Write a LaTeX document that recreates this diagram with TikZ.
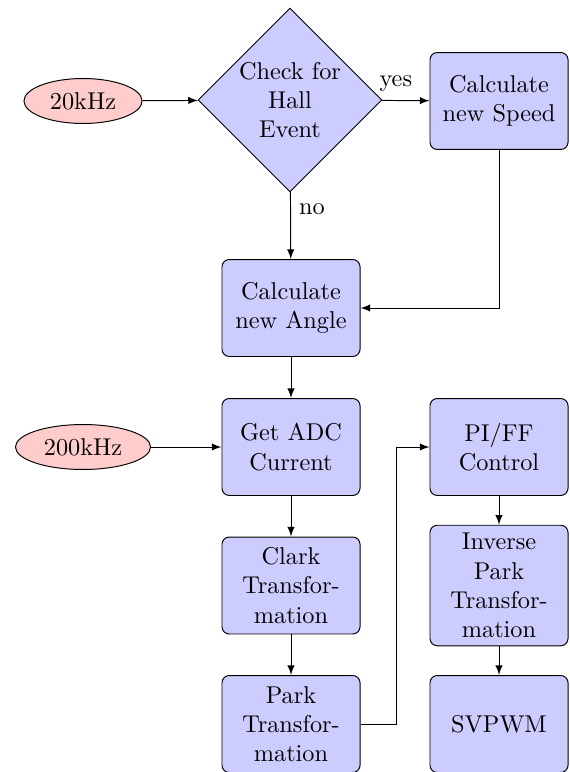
\documentclass[tikz,border=0pt]{standalone}
\usetikzlibrary{shapes.geometric,arrows}
\begin{document}
\begin{tikzpicture}[x=0.4115pt,y=-0.4115pt,>=latex,
  block/.style={rectangle, draw, fill=blue!20, rounded corners=3pt,
    minimum width=56.8pt, minimum height=39.9pt, align=center, inner sep=3.33pt},
  decision/.style={diamond, draw, fill=blue!20, aspect=1,
    minimum width=75.7pt, minimum height=75.7pt, inner sep=0pt, align=center},
  clock/.style={ellipse, draw, fill=red!20, minimum height=18.5pt, inner sep=0pt}]

\useasboundingbox (0,0) rectangle (569,772);

% clock sources
\node[clock, minimum width=48.6pt] (c20) at (83,101) {20kHz};
\node[clock, minimum width=55.6pt] (c200) at (83,447) {200kHz};

% Hall sensor branch
\node[decision] (hall) at (290,100) {Check for\\Hall\\Event};
\node[block] (speed) at (499,101) {Calculate\\new Speed};
\node[block] (angle) at (291,308) {Calculate\\new Angle};

% current control chain
\node[block] (adc) at (291,447) {Get ADC\\Current};
\node[block] (clark) at (291,585.5) {Clark\\Transfor-\\mation};
\node[block] (park) at (291,724) {Park\\Transfor-\\mation};
\node[block] (pi) at (499,447) {PI/FF\\Control};
\node[block] (ipark) at (499,585.5) {Inverse\\Park\\Transfor-\\mation};
\node[block] (svpwm) at (499,724) {SVPWM};

\coordinate (bend) at (396,724);

% connectors
\draw[->] (c20) -- (hall);
\draw[->] (hall) -- node[above, pos=0.29] {yes} (speed);
\draw[->] (hall) -- node[right, pos=0.25] {no} (angle);
\draw[->] (speed) |- (angle);
\draw[->] (angle) -- (adc);
\draw[->] (c200) -- (adc);
\draw[->] (adc) -- (clark);
\draw[->] (clark) -- (park);
\draw[->] (park) -- (bend) |- (pi);
\draw[->] (pi) -- (ipark);
\draw[->] (ipark) -- (svpwm);
\end{tikzpicture}
\end{document}
